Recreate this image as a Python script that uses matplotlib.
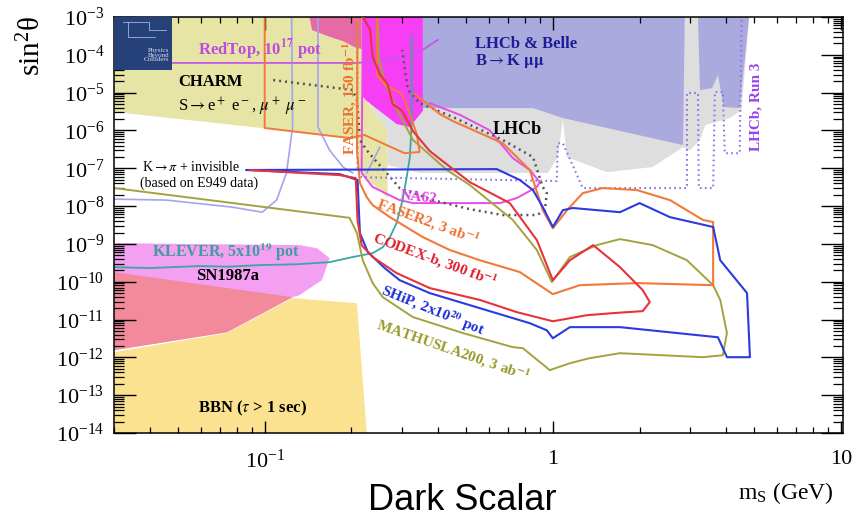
import numpy as np
import matplotlib
matplotlib.use("Agg")
import matplotlib.pyplot as plt
from matplotlib.patches import Rectangle
from matplotlib.ticker import FixedLocator, FixedFormatter, LogLocator, NullFormatter

plt.rcParams["font.family"] = "serif"
plt.rcParams["font.serif"] = ["Liberation Serif", "DejaVu Serif"]
plt.rcParams["mathtext.fontset"] = "stix"

# ---- shaded regions: mass m_S (GeV) and sin^2(theta) ----
charm_m = [0.030, 0.217, 0.217, 0.226, 0.257, 0.267, 0.267, 0.214, 0.210, 0.202, 0.030]
charm_s = [1e-3, 1e-3, 7.7e-6, 6.0e-6, 1.48e-6, 9.6e-7, 1.63e-8, 7.9e-8, 5.6e-7, 6.3e-7, 3.1e-6]

lhcb_m = [0.232, 4.80, 4.52, 4.12, 3.38, 3.24, 2.99, 2.83, 2.22, 1.54, 1.12, 1.083, 1.04,
          0.961, 0.345, 0.267, 0.267, 0.232]
lhcb_s = [1e-3, 1e-3, 3.5e-6, 2.13e-6, 1.39e-6, 5.6e-7, 3.0e-7, 3.6e-7, 1.08e-7, 7.9e-8,
          1.98e-7, 1.88e-6, 1.98e-7, 7.5e-8, 7.5e-8, 1.22e-7, 9.6e-7, 4.7e-6]

belle_m1 = [0.354, 0.354, 0.475, 0.853, 1.083, 2.83, 2.87]
belle_s1 = [1e-3, 3.9e-6, 3.9e-6, 3.9e-6, 2.13e-6, 4.1e-7, 1e-3]
belle_m2 = [3.19, 3.24, 3.57, 3.74, 3.92, 4.45, 4.80]
belle_s2 = [1e-3, 1.17e-5, 1.32e-5, 2.9e-5, 4.2e-6, 3.9e-6, 1e-3]

pink_m = [0.143, 0.146, 0.168, 0.187, 0.205, 0.217, 0.217]
pink_s = [1e-3, 4.5e-4, 3.0e-4, 2.3e-4, 1.6e-4, 1.42e-4, 1e-3]

magenta_m = [0.219, 0.219, 0.226, 0.287, 0.319, 0.354, 0.354]
magenta_s = [1e-3, 7.7e-6, 6.0e-6, 1.48e-6, 1.23e-6, 3.3e-6, 1e-3]

sn_m = [0.030, 0.132, 0.152, 0.168, 0.158, 0.132, 0.125, 0.074, 0.030]
sn_s = [1.05e-9, 9.3e-10, 7.7e-10, 4.2e-10, 1.1e-10, 4.4e-11, 3.9e-11, 4.6e-12, 1.55e-12]

red_m = [0.030, 0.125, 0.074, 0.030]
red_s = [1.8e-10, 3.9e-11, 4.6e-12, 1.55e-12]

bbn_m = [0.030, 0.030, 0.074, 0.125, 0.209, 0.226]
bbn_s = [1e-14, 1.37e-12, 4.4e-12, 3.7e-11, 2.7e-11, 1e-14]

# ---- sensitivity curves ----
faser_m = [0.100, 0.100, 0.197, 0.222, 0.265, 0.306, 0.345, 0.337, 0.319, 0.300, 0.261, 0.245, 0.245]
faser_s = [1e-3, 1.16e-6, 6.3e-7, 7.6e-7, 4.1e-7, 2.5e-7, 2.7e-7, 8.0e-7, 2.7e-6, 9.2e-6,
           1.6e-5, 2.9e-5, 1e-3]

faser2_m = [0.210, 0.209, 0.214, 0.226, 0.237, 0.272, 0.354, 0.439, 0.558, 0.768, 1.00, 1.24,
            1.96, 3.60, 3.60, 3.32, 2.55, 1.96, 1.49, 1.27, 1.12, 1.00, 0.923, 0.832, 0.670,
            0.450, 0.406, 0.332]
faser2_s = [1e-3, 3.0e-7, 4.06e-8, 1.73e-8, 1.06e-8, 5.1e-9, 1.51e-9, 6.9e-10, 3.7e-10, 1.8e-10,
            4.7e-11, 8.1e-11, 9.2e-11, 8.1e-11, 3.8e-9, 4.3e-9, 1.44e-8, 2.65e-8, 3.0e-8, 2.2e-8,
            7.8e-9, 2.6e-9, 7.8e-9, 9.0e-8, 4.6e-7, 1.77e-6, 2.7e-6, 9.2e-6]

codex_m = [0.0887, 0.182, 0.207, 0.210, 0.217, 0.237, 0.287, 0.374, 0.558, 0.750, 1.00, 1.31,
           1.62, 2.05, 2.17, 2.05, 1.71, 1.38, 1.146, 1.00, 0.880, 0.709, 0.515, 0.374, 0.327,
           0.300, 0.278, 0.267, 0.251, 0.237, 0.232, 0.219]
codex_s = [9.0e-8, 6.6e-8, 5.5e-8, 4.3e-9, 9.3e-10, 4.5e-10, 1.69e-10, 6.8e-11, 3.3e-11, 1.57e-11,
           9.0e-12, 1.3e-11, 1.48e-11, 1.67e-11, 2.9e-11, 6.0e-11, 2.43e-10, 9.3e-10, 3.7e-10,
           1.1e-10, 1.26e-9, 1.2e-8, 4.3e-8, 2.85e-7, 9.6e-7, 3.3e-6, 5.0e-6, 1.69e-5, 3.1e-5,
           8.7e-5, 4.8e-4, 1e-3]

ship_m = [0.0866, 0.639, 0.768, 0.853, 0.923, 1.00, 1.083, 1.173, 1.71, 2.00, 2.55, 3.60, 3.81,
          4.72, 4.83, 4.02, 3.74, 1.71, 1.146, 1.00, 0.953, 0.832, 0.558, 0.374, 0.294, 0.261,
          0.228, 0.214, 0.210, 0.182, 0.0866]
ship_s = [9.0e-8, 9.5e-8, 4.9e-8, 2.65e-8, 9.4e-9, 2.8e-9, 7.8e-9, 8.9e-9, 6.9e-9, 1.2e-8, 5.1e-9,
          2.8e-9, 3.7e-10, 5.0e-11, 1.01e-12, 1.01e-12, 3.4e-12, 6.3e-12, 6.3e-12, 3.2e-12,
          5.2e-12, 8.0e-12, 2.0e-11, 5.0e-11, 1.1e-10, 2.29e-10, 6.1e-10, 1.93e-9, 4.9e-8,
          7.0e-8, 9.0e-8]

mathusla_m = [0.030, 0.197, 0.209, 0.219, 0.237, 0.257, 0.327, 0.487, 0.726, 0.787, 0.976, 1.146,
              1.34, 1.71, 3.32, 3.89, 4.02, 3.81, 3.60, 2.92, 2.22, 1.71, 1.42, 1.146, 0.992,
              0.880, 0.726, 0.515, 0.429, 0.327, 0.294, 0.265, 0.249, 0.247]
mathusla_s = [3.0e-8, 4.9e-9, 1.93e-9, 3.7e-10, 9.2e-11, 3.9e-11, 1.16e-11, 4.4e-12, 1.86e-12,
              1.75e-12, 4.6e-13, 7.0e-13, 9.5e-13, 1.29e-12, 1.01e-12, 1.14e-12, 4.4e-12, 3.3e-11,
              8.1e-11, 3.7e-10, 9.3e-10, 1.34e-9, 9.3e-10, 4.5e-10, 9.8e-11, 6.9e-10, 4.3e-9,
              3.6e-8, 9.0e-8, 5.6e-7, 2.6e-6, 1.4e-5, 7.3e-5, 1e-3]

klever_m = [0.030, 0.040, 0.0595, 0.075, 0.096, 0.13, 0.168, 0.202, 0.237, 0.257, 0.272, 0.287,
            0.301, 0.311, 0.319, 0.324, 0.324]
klever_s = [2.43e-10, 2.3e-10, 2.6e-10, 2.5e-10, 2.75e-10, 2.9e-10, 3.3e-10, 4.5e-10, 5.7e-10,
            8.2e-10, 1.51e-9, 3.6e-9, 1.44e-8, 5.8e-8, 1.98e-7, 1.88e-6, 3.1e-4]

lav1_m = [0.124, 0.125, 0.119, 0.110, 0.098, 0.077, 0.0457, 0.030]
lav1_s = [1e-3, 1.23e-6, 7.5e-8, 1.44e-8, 6.9e-9, 9.4e-9, 1.44e-8, 1.53e-8]
lav2_m = [0.153, 0.153, 0.168, 0.187, 0.202]
lav2_s = [1e-3, 1.23e-6, 3.0e-7, 1.08e-7, 7.5e-8]
lav3_m = [0.226, 0.251]
lav3_s = [7.5e-8, 3.6e-7]

redtop_m = [0.030, 0.209, 0.272, 0.345, 0.399]
redtop_s = [6.1e-5, 6.1e-5, 7.3e-5, 1.19e-4, 2.5e-4]

na62_m = [0.219, 0.217, 0.237, 0.294, 0.327, 0.655, 0.750, 0.880, 0.901, 0.832, 0.726, 0.603,
          0.475, 0.374]
na62_s = [1e-3, 7.5e-8, 3.2e-8, 1.44e-8, 1.2e-8, 1.2e-8, 1.63e-8, 3.2e-8, 4.3e-8, 9.0e-8,
          1.86e-7, 1.02e-6, 2.6e-6, 5.3e-6]

dump_m = [0.107, 0.202, 0.209, 0.214, 0.226, 0.245, 0.265, 0.294, 0.383, 0.515, 0.670, 0.880,
          0.938, 0.953, 0.923, 0.853, 0.670, 0.450, 0.345, 0.314, 0.300]
dump_s = [2.15e-5, 1.17e-5, 6.4e-6, 5.6e-7, 3.0e-7, 1.46e-7, 7.5e-8, 3.0e-8, 1.44e-8, 8.3e-9,
          5.8e-9, 5.8e-9, 7.8e-9, 2.2e-8, 3.2e-8, 1.98e-7, 5.6e-7, 2.26e-6, 5.3e-6, 1.17e-5,
          1.34e-4]

run3_m = [0.209, 0.210, 0.217, 1.032, 1.04, 1.083, 1.27, 2.92, 2.92, 3.19, 3.21, 3.60, 3.65,
          3.89, 3.95, 4.45, 4.52]
run3_s = [1e-3, 9.0e-8, 5.8e-8, 4.6e-8, 4.6e-7, 4.6e-7, 3.0e-8, 3.0e-8, 9.8e-6, 9.8e-6, 3.0e-8,
          3.0e-8, 1.04e-5, 1.04e-5, 2.5e-7, 2.5e-7, 1e-3]

x_ticks = [0.1, 1, 10]
x_tick_labels = [r"$\mathregular{10^{-1}}$", "1", "10"]

fig = plt.figure(figsize=(8.56, 5.2), dpi=100)
ax = fig.add_axes([0.1332, 0.1673, 0.8516, 0.8])
ax.set_xscale("log")
ax.set_yscale("log")
ax.set_xlim(0.03, 10.16)
ax.set_ylim(1e-14, 1e-3)

# filled regions
ax.fill(bbn_m, bbn_s, color="#fbe290", lw=0, zorder=1)
ax.fill(sn_m, sn_s, color="#f39ff2", lw=0, zorder=1.1)
ax.fill(red_m, red_s, color="#f38a9c", lw=0, zorder=1.2)
ax.fill(charm_m, charm_s, color="#e6e5a6", lw=0, zorder=1)
ax.fill(lhcb_m, lhcb_s, color="#dedede", lw=0, zorder=1.1)
ax.fill(belle_m1, belle_s1, color="#abaade", lw=0, zorder=1.2)
ax.fill(belle_m2, belle_s2, color="#abaade", lw=0, zorder=1.2)
ax.fill(pink_m, pink_s, color="#e56aa6", lw=0, zorder=1.3)
ax.fill(magenta_m, magenta_s, color="#f73ef5", lw=0, zorder=1.3)

# curves
ax.plot(lav1_m, lav1_s, color="#a3a3f2", lw=1.2, zorder=2)
ax.plot(lav2_m, lav2_s, color="#a3a3f2", lw=1.2, zorder=2)
ax.plot(lav3_m, lav3_s, color="#a3a3f2", lw=1.2, zorder=2)
ax.plot(redtop_m, redtop_s, color="#c657e6", lw=1.3, zorder=2)
ax.plot(na62_m, na62_s, color="#e84ce8", lw=1.4, zorder=2.1)
ax.plot(dump_m, dump_s, color="#555555", lw=1.8, ls=(0, (0.8, 1.6)), zorder=2.2)
ax.plot(run3_m, run3_s, color="#8c74ea", lw=1.5, ls=(0, (0.8, 1.6)), zorder=2.2)
ax.plot(klever_m, klever_s, color="#3aa6a6", lw=1.3, zorder=2.3)
ax.plot(mathusla_m, mathusla_s, color="#a3a23e", lw=1.4, zorder=2.4)
ax.plot(faser_m, faser_s, color="#f2793a", lw=1.4, zorder=2.5)
ax.plot(faser2_m, faser2_s, color="#f2793a", lw=1.5, zorder=2.5)
ax.plot(ship_m, ship_s, color="#2b3be0", lw=1.5, zorder=2.6)
ax.plot(codex_m, codex_s, color="#e8323c", lw=1.5, zorder=2.7)

# labels
bold = dict(fontweight="bold", zorder=5)
ax.text(0.0585, 1.34e-4, r"RedTop, 10$^{\mathbf{17}}$ pot", color="#c04ae0", fontsize=12,
        va="center", **bold)
ax.text(0.050, 1.9e-5, "CHARM", color="black", fontsize=12, va="center", **bold)
ax.text(0.050, 4.2e-6, r"S$\rightarrow$e$^+$ e$^-$, $\mu^+$ $\mu^-$", color="black", fontsize=12,
        va="center", zorder=5)
ax.text(0.0374, 1.08e-7, r"K$\rightarrow\pi$ + invisible", fontsize=10, va="center", zorder=5)
ax.text(0.0368, 4.06e-8, "(based on E949 data)", fontsize=10, va="center", zorder=5)
ax.text(0.197, 6.8e-6, r"FASER, 150 fb$^{\mathbf{-1}}$", color="#ee7030", fontsize=11,
        rotation=90, ha="center", va="center", **bold)
ax.text(0.536, 1.93e-4, "LHCb & Belle", color="#1c1c96", fontsize=12, va="center", **bold)
ax.text(0.536, 6.9e-5, r"B$\rightarrow$K $\mathbf{\mu\mu}$", color="#1c1c96", fontsize=12,
        va="center", **bold)
ax.text(0.617, 1.09e-6, "LHCb", color="black", fontsize=13, va="center", **bold)
ax.text(5.07, 4.2e-6, "LHCb, Run 3", color="#9a44e6", fontsize=11, rotation=90,
        ha="center", va="center", **bold)
ax.text(0.294, 1.73e-8, "NA62", color="#e040e8", fontsize=11, rotation=-6, va="center", **bold)
ax.text(0.368, 3.8e-9, r"FASER2, 3 ab$^{\mathbf{-1}}$", color="#ee7030", fontsize=11,
        rotation=-20, ha="center", va="center", **bold)
ax.text(0.389, 3.7e-10, r"CODEX-b, 300 fb$^{\mathbf{-1}}$", color="#e0202e", fontsize=11,
        rotation=-20, ha="center", va="center", **bold)
ax.text(0.383, 1.77e-11, r"SHiP, 2x10$^{\mathbf{20}}$ pot", color="#1f2fd6", fontsize=11,
        rotation=-22, ha="center", va="center", **bold)
ax.text(0.450, 1.55e-12, r"MATHUSLA200, 3 ab$^{\mathbf{-1}}$", color="#9a9a2e", fontsize=11,
        rotation=-19, ha="center", va="center", **bold)
ax.text(0.0406, 6.1e-10, r"KLEVER, 5x10$^{\mathbf{19}}$ pot", color="#3f9d9d", fontsize=11.5,
        va="center", **bold)
ax.text(0.058, 1.41e-10, "SN1987a", color="black", fontsize=12, va="center", **bold)
ax.text(0.0585, 4.5e-14, r"BBN ($\tau$ > 1 sec)", color="black", fontsize=12, va="center", **bold)

# axes and ticks
ax.xaxis.set_major_locator(FixedLocator(x_ticks))
ax.xaxis.set_major_formatter(FixedFormatter(x_tick_labels))
ax.xaxis.set_minor_locator(LogLocator(base=10, subs=np.arange(2, 10)))
ax.xaxis.set_minor_formatter(NullFormatter())
ax.yaxis.set_major_locator(LogLocator(base=10, numticks=20))
ax.yaxis.set_minor_locator(LogLocator(base=10, subs=np.arange(2, 10), numticks=100))
ax.yaxis.set_minor_formatter(NullFormatter())
ax.tick_params(which="both", direction="in", top=True, right=True, width=1)
ax.tick_params(axis="x", which="major", length=9, labelsize=16, pad=12)
ax.tick_params(axis="x", which="minor", length=4.5, width=0.9)
ax.tick_params(axis="y", which="major", length=16, labelsize=16, pad=7)
ax.tick_params(axis="y", which="minor", length=7, width=0.9)
for sp in ax.spines.values():
    sp.set_linewidth(1.1)

fig.text(32 / 856, 1 - 46 / 520, r"$\mathregular{sin^2\theta}$", rotation=90, fontsize=21,
         ha="center", va="center")
fig.text(786 / 856, 1 - 493 / 520, r"$\mathregular{m_S}$ (GeV)", fontsize=17,
         ha="center", va="center")
fig.text(462 / 856, 1 - 500 / 520, "Dark Scalar", family="Liberation Sans", fontsize=26,
         ha="center", va="center")

# Physics Beyond Colliders logo
logo = fig.add_axes([114 / 856, 1 - 70 / 520, 58 / 856, 53 / 520])
logo.set_xlim(0, 1)
logo.set_ylim(0, 1)
logo.axis("off")
logo.add_patch(Rectangle((0, 0), 1, 1, color="#26407a"))
logo.plot([0.15, 0.6, 0.6, 0.9], [0.9, 0.9, 0.75, 0.75], color="#9fb4e0", lw=0.6)
logo.plot([0.25, 0.25, 0.7], [0.9, 0.62, 0.62], color="#9fb4e0", lw=0.6)
logo.text(0.95, 0.28, "Physics\nBeyond\nColliders", color="#d6def0", fontsize=5,
          ha="right", va="center", linespacing=0.95)

fig.savefig("out.png", dpi=100)
